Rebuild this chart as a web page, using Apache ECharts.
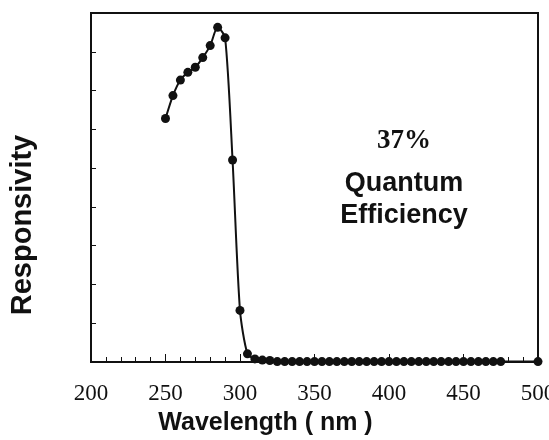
<!DOCTYPE html>
<html>
<head>
<meta charset="utf-8">
<script src="https://cdn.jsdelivr.net/npm/echarts@6/dist/echarts.min.js"></script>
<style>
  html, body { margin: 0; padding: 0; background: #fff; }
  #chart { width: 549px; height: 440px; }
</style>
</head>
<body>
<div id="chart"></div>
<script>
// wavelength (nm) of each measured point
var wavelength = [250, 255, 260, 265, 270, 275, 280, 285, 290, 295, 300, 305, 310, 315,
    320, 325, 330, 335, 340, 345, 350, 355, 360, 365, 370, 375, 380, 385, 390, 395,
    400, 405, 410, 415, 420, 425, 430, 435, 440, 445, 450, 455, 460, 465, 470, 475, 500];
// responsivity (arbitrary units)
var responsivity = [6.28, 6.87, 7.27, 7.47, 7.60, 7.85, 8.16, 8.63, 8.36, 5.21, 1.33, 0.21, 0.08, 0.05,
    0.04, 0.01, 0.01, 0.01, 0.01, 0.01, 0.01, 0.01, 0.01, 0.01, 0.01, 0.01, 0.01, 0.01, 0.01, 0.01,
    0.01, 0.01, 0.01, 0.01, 0.01, 0.01, 0.01, 0.01, 0.01, 0.01, 0.01, 0.01, 0.01, 0.01, 0.01, 0.01, 0.01];
var xTicks = [200, 250, 300, 350, 400, 450, 500];

var chart = echarts.init(document.getElementById('chart'));
var points = wavelength.map(function (w, i) { return [w, responsivity[i]]; });

chart.setOption({
    backgroundColor: '#fff',
    animation: false,
    grid: {
        left: 91, right: 11, top: 13, bottom: 78,
        outerBoundsMode: 'none',
        containLabel: false,
        show: true, borderColor: '#111', borderWidth: 2
    },
    xAxis: {
        type: 'value',
        min: xTicks[0], max: xTicks[xTicks.length - 1], interval: 50,
        name: 'Wavelength ( nm )',
        nameLocation: 'middle',
        nameGap: 49,
        nameTextStyle: {
            fontFamily: 'Liberation Sans', fontWeight: 'bold', fontSize: 25, color: '#111',
            padding: [0, 98, 0, 0]
        },
        axisLine: { lineStyle: { color: '#111', width: 2 } },
        axisTick: { inside: true, length: 8, lineStyle: { color: '#111', width: 1 } },
        minorTick: { show: true, splitNumber: 5, length: 5, lineStyle: { color: '#111', width: 1 } },
        splitLine: { show: false },
        axisLabel: {
            margin: 20, fontFamily: 'Liberation Serif', fontSize: 23, color: '#111',
            showMaxLabel: true, hideOverlap: false
        }
    },
    yAxis: {
        type: 'value',
        min: 0, max: 9, interval: 1,
        splitLine: { show: false },
        axisLine: { lineStyle: { color: '#111', width: 2 } },
        axisTick: { inside: true, length: 5, lineStyle: { color: '#111', width: 1 } },
        axisLabel: { show: false }
    },
    graphic: [
        { type: 'text', x: 23, y: 225, rotation: Math.PI / 2,
          style: { text: 'Responsivity', font: 'bold 29px "Liberation Sans"', fill: '#111',
                   align: 'center', verticalAlign: 'middle' } },
        { type: 'text', x: 404, y: 141,
          style: { text: '37%', font: 'bold 27px "Liberation Serif"', fill: '#111',
                   align: 'center', verticalAlign: 'middle' } },
        { type: 'text', x: 404, y: 184,
          style: { text: 'Quantum', font: 'bold 27px "Liberation Sans"', fill: '#111',
                   align: 'center', verticalAlign: 'middle' } },
        { type: 'text', x: 404, y: 216,
          style: { text: 'Efficiency', font: 'bold 27px "Liberation Sans"', fill: '#111',
                   align: 'center', verticalAlign: 'middle' } }
    ],
    series: [{
        type: 'line',
        data: points,
        smooth: 0.25,
        symbol: 'circle',
        symbolSize: 9,
        itemStyle: { color: '#111' },
        lineStyle: { color: '#111', width: 2 }
    }]
});
</script>
</body>
</html>
